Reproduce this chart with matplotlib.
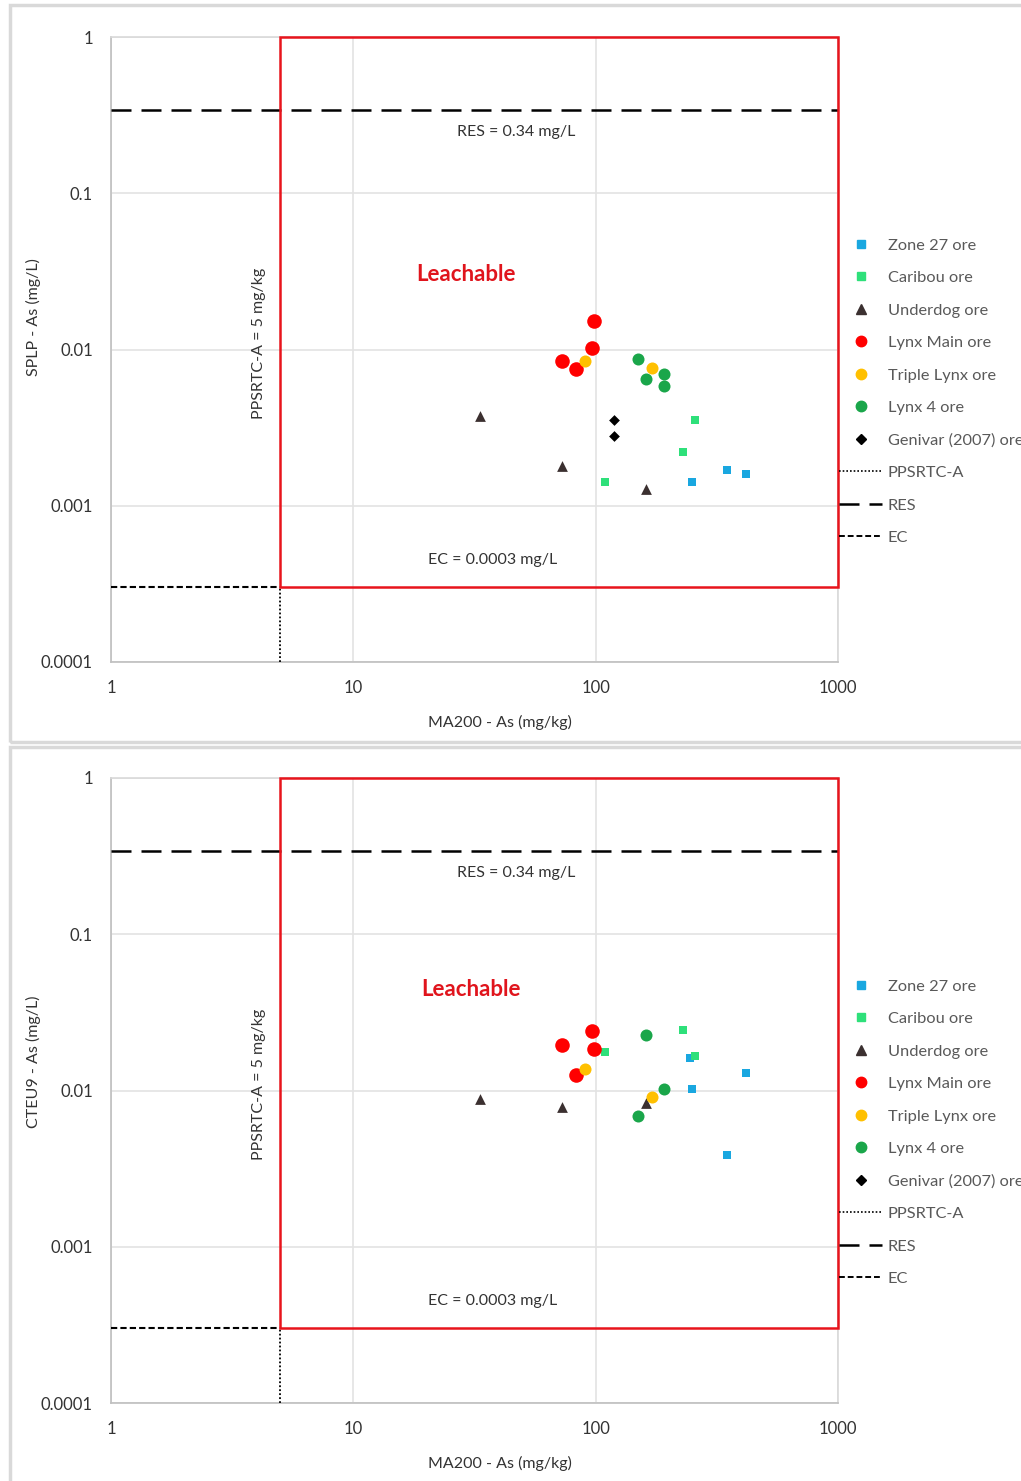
import matplotlib
matplotlib.use("Agg")
import matplotlib.pyplot as plt
from matplotlib.lines import Line2D
from matplotlib.patches import Rectangle

plt.rcParams['font.family'] = ['Lato', 'DejaVu Sans']

# series names, colours and markers
series = ["Zone 27 ore", "Caribou ore", "Underdog ore", "Lynx Main ore",
          "Triple Lynx ore", "Lynx 4 ore", "Genivar (2007) ore"]
colors = ["#19a7e0", "#2ee07a", "#3b3030", "#ff0000", "#ffc000", "#1aa64a", "#000000"]
markers = ["s", "s", "^", "o", "o", "o", "D"]
sizes = [40, 40, 60, 110, 75, 75, 30]

# MA200 As (mg/kg) vs SPLP As (mg/L)
splp_x = {
    "Zone 27 ore": [349, 418, 249],
    "Caribou ore": [258, 229, 109],
    "Underdog ore": [33.2, 72.9, 161],
    "Lynx Main ore": [98.1, 96.9, 72.9, 82.7],
    "Triple Lynx ore": [90.6, 170],
    "Lynx 4 ore": [150, 162, 191, 191],
    "Genivar (2007) ore": [119, 119],
}
splp_y = {
    "Zone 27 ore": [0.00169, 0.00160, 0.00141],
    "Caribou ore": [0.00354, 0.00222, 0.00141],
    "Underdog ore": [0.00375, 0.00180, 0.00128],
    "Lynx Main ore": [0.0153, 0.0102, 0.0085, 0.0075],
    "Triple Lynx ore": [0.0084, 0.0076],
    "Lynx 4 ore": [0.0087, 0.0065, 0.0070, 0.0058],
    "Genivar (2007) ore": [0.00354, 0.00279],
}

# MA200 As (mg/kg) vs CTEU9 As (mg/L)
cteu_x = {
    "Zone 27 ore": [244, 418, 249, 349],
    "Caribou ore": [229, 109, 258],
    "Underdog ore": [33.2, 72.9, 161],
    "Lynx Main ore": [96.9, 72.9, 98.1, 82.7],
    "Triple Lynx ore": [90.6, 171],
    "Lynx 4 ore": [162, 191, 150],
    "Genivar (2007) ore": [],
}
cteu_y = {
    "Zone 27 ore": [0.0161, 0.0129, 0.0102, 0.00387],
    "Caribou ore": [0.0244, 0.0177, 0.0167],
    "Underdog ore": [0.00883, 0.00787, 0.00828],
    "Lynx Main ore": [0.0240, 0.0196, 0.0184, 0.0126],
    "Triple Lynx ore": [0.0137, 0.0091],
    "Lynx 4 ore": [0.0227, 0.0102, 0.0069],
    "Genivar (2007) ore": [],
}

# criteria
ppsrtc = 5.0      # mg/kg
res = 0.34        # mg/L
ec = 0.0003       # mg/L

xticks = [1, 10, 100, 1000]
xticklabels = ["1", "10", "100", "1000"]
yticks = [0.0001, 0.001, 0.01, 0.1, 1]
yticklabels = ["0.0001", "0.001", "0.01", "0.1", "1"]

W, H = 1021, 1481
fig = plt.figure(figsize=(W / 100, H / 100), dpi=100)

# light frames around each chart
fig.patches.append(Rectangle((10 / W, 1 - 742 / H), 1.2, 737 / H, transform=fig.transFigure,
                             fill=False, edgecolor="#d9d9d9", linewidth=2.5))
fig.patches.append(Rectangle((10 / W, -0.01), 1.2, 1 - 747 / H + 0.01, transform=fig.transFigure,
                             fill=False, edgecolor="#d9d9d9", linewidth=2.5))


def draw_panel(top_px, xs, ys, ylabel, leach_xy, ylab_px):
    ax = fig.add_axes([111 / W, 1 - (top_px + 625) / H, 727 / W, 625 / H])
    ax.set_xscale("log")
    ax.set_yscale("log")
    ax.set_xlim(1, 1000)
    ax.set_ylim(0.0001, 1)
    ax.set_xticks(xticks)
    ax.set_xticklabels(xticklabels)
    ax.set_yticks(yticks)
    ax.set_yticklabels(yticklabels)
    ax.minorticks_off()
    ax.tick_params(length=0, labelsize=12, labelcolor="#333333")
    ax.tick_params(axis="x", pad=13)
    ax.tick_params(axis="y", pad=13)
    ax.grid(True, color="#e3e3e3", linewidth=1.2)
    for s in ax.spines.values():
        s.set_color("#d9d9d9")
        s.set_linewidth(1.2)
    ax.spines["left"].set_color("#bfbfbf")
    ax.spines["bottom"].set_color("#bfbfbf")

    # criteria lines
    ax.plot([1, 1000], [res, res], color="black", linestyle=(0, (8, 4)), linewidth=1.8, zorder=3)
    ax.plot([1, ppsrtc], [ec, ec], color="black", linestyle=(0, (3, 1.5)), linewidth=1.5, zorder=3)
    ax.plot([ppsrtc, ppsrtc], [0.0001, ec], color="black", linestyle=(0, (1, 1.2)), linewidth=1.3, zorder=3)
    ax.add_patch(Rectangle((ppsrtc, ec), 1000 - ppsrtc, 1 - ec, fill=False,
                           edgecolor="#e8141c", linewidth=1.8, zorder=4, clip_on=False))

    for name, c, m, sz in zip(series, colors, markers, sizes):
        ax.scatter(xs[name], ys[name], s=sz, c=c, marker=m, linewidths=0, zorder=5)

    ax.text(47, 0.245, "RES = 0.34 mg/L", ha="center", va="center", fontsize=11.5, color="#333333")
    ax.text(37.6, 0.00045, "EC = 0.0003 mg/L", ha="center", va="center", fontsize=11.5, color="#333333")
    ax.text(4.1, 0.011, "PPSRTC-A = 5 mg/kg", ha="center", va="center", rotation=90,
            fontsize=11.5, color="#333333")
    ax.text(leach_xy[0], leach_xy[1], "Leachable", ha="center", va="center",
            fontsize=16, fontweight="bold", color="#e0141c")

    fig.text(33 / W, 1 - ylab_px / H, ylabel, rotation=90, ha="center", va="center",
             fontsize=11.5, color="#333333")
    fig.text(500 / W, 1 - (top_px + 685) / H, "MA200 - As (mg/kg)", ha="center", va="center",
             fontsize=11.5, color="#333333")

    handles = [Line2D([], [], linestyle="none", marker=m, color=c, markersize=ms)
               for c, m, ms in zip(colors, markers, [6, 6, 6.5, 7.5, 7.5, 7.5, 5])]
    handles += [Line2D([], [], color="black", linestyle=(0, (1, 1.2)), linewidth=1.2),
                Line2D([], [], color="black", linestyle=(0, (8, 4)), linewidth=1.8),
                Line2D([], [], color="black", linestyle=(0, (3, 1.5)), linewidth=1.4)]
    labels = series + ["PPSRTC-A", "RES", "EC"]
    ax.legend(handles, labels, loc="upper left", bbox_to_anchor=(1.002, 0.678),
              frameon=False, fontsize=11.8, labelcolor="#595959", borderpad=0,
              borderaxespad=0, handlelength=2.6, handletextpad=0.35, labelspacing=1.1)
    return ax


draw_panel(37, splp_x, splp_y, "SPLP - As (mg/L)", (29.1, 0.030), 317)
draw_panel(778, cteu_x, cteu_y, "CTEU9 - As (mg/L)", (30.5, 0.0446), 1062)

fig.savefig("out.png", dpi=100)
